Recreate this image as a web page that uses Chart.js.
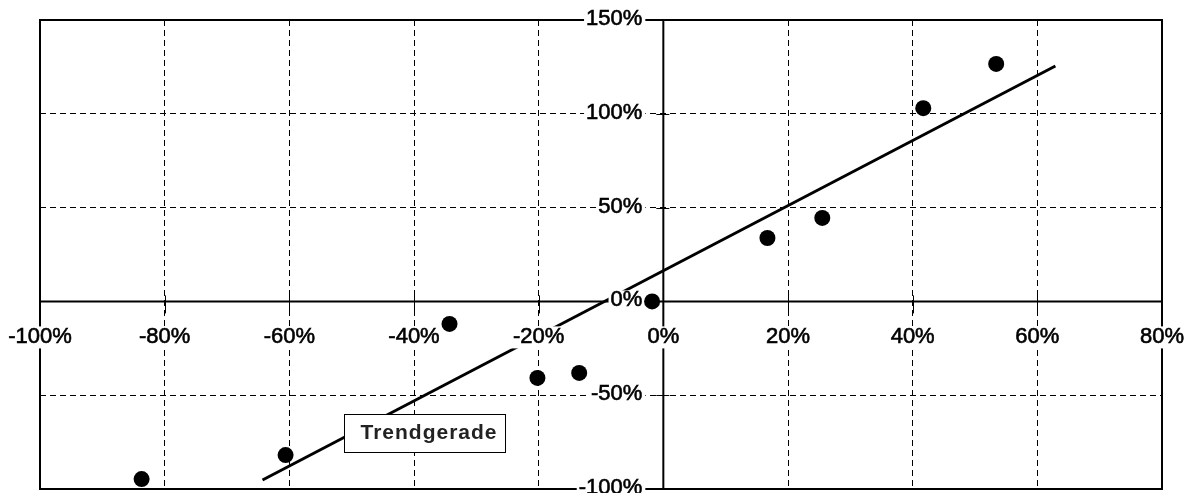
<!DOCTYPE html>
<html>
<head>
<meta charset="utf-8">
<script src="https://cdn.jsdelivr.net/npm/chart.js@4"></script>
<style>
  html, body { margin: 0; padding: 0; background: #fff; overflow: hidden; }
  canvas { display: block; }
</style>
</head>
<body>
<canvas id="grafico" width="1192" height="493"></canvas>
<script>
// Datos
let puntosX = [-83.7, -60.6, -34.3, -20.2, -13.5, -1.8, 16.7, 25.5, 41.7, 53.4];
let puntosY = [-94.7, -81.9, -12.0, -40.8, -38.1, 0.0, 33.8, 44.5, 103.0, 126.6];

// Trendgerade: Anfang und Ende
let trendX = [-64.3, 62.9];
let trendY = [-95.2, 125.5];

// Achsenbeschriftung
let ticksX = [-100, -80, -60, -40, -20, 0, 20, 40, 60, 80];
let ticksY = [-100, -50, 0, 50, 100, 150];

let etiquetaTrend = 'Trendgerade';
let posEtiqueta = [-51.2, -60]; // esquina superior izquierda en valores

let fuente = '"Liberation Sans", Arial, sans-serif';

// Marco, ejes en cero y marcas
let pluginMarco = {
    id: 'marco',
    beforeDatasetsDraw(chart) {
        let ctx = chart.ctx;
        let a = chart.chartArea;
        let sx = chart.scales.x;
        let sy = chart.scales.y;
        let x0 = sx.getPixelForValue(0);
        let y0 = sy.getPixelForValue(0);
        ctx.save();
        ctx.strokeStyle = '#000';
        ctx.lineWidth = 2;
        ctx.strokeRect(a.left, a.top, a.right - a.left, a.bottom - a.top);
        ctx.beginPath();
        ctx.moveTo(a.left, y0);
        ctx.lineTo(a.right, y0);
        ctx.moveTo(x0, a.top);
        ctx.lineTo(x0, a.bottom);
        ctx.stroke();
        // pequeñas marcas sobre los ejes
        ctx.lineWidth = 1;
        ctx.beginPath();
        ticksX.forEach(function (v) {
            let px = Math.round(sx.getPixelForValue(v)) + 0.5;
            ctx.moveTo(px, y0 - 6);
            ctx.lineTo(px, y0 + 12);
        });
        ticksY.forEach(function (v) {
            let py = Math.round(sy.getPixelForValue(v)) + 0.5;
            ctx.moveTo(x0 - 7, py);
            ctx.lineTo(x0 + 6, py);
        });
        ctx.stroke();
        ctx.restore();
    },
    afterDatasetDraw(chart, args) {
        if (args.index !== 1) return;
        let ctx = chart.ctx;
        let sx = chart.scales.x;
        let sy = chart.scales.y;
        let x0 = sx.getPixelForValue(0);
        let y0 = sy.getPixelForValue(0);
        ctx.save();
        ctx.font = '22px ' + fuente;
        ctx.textBaseline = 'middle';
        ctx.lineWidth = 0.6;
        ctx.strokeStyle = '#000';

        // etiquetas del eje X
        ctx.textAlign = 'center';
        ticksX.forEach(function (v) {
            let txt = v + '%';
            let px = sx.getPixelForValue(v);
            let py = y0 + 36;
            let w = ctx.measureText(txt).width;
            ctx.fillStyle = '#fff';
            ctx.fillRect(px - w / 2 - 2, py - 11, w + 4, 22);
            ctx.fillStyle = '#000';
            ctx.fillText(txt, px, py);
            ctx.strokeText(txt, px, py);
        });

        // etiquetas del eje Y
        ctx.textAlign = 'right';
        ticksY.forEach(function (v) {
            let txt = v + '%';
            let px = x0 - 21;
            let py = sy.getPixelForValue(v) - 1;
            let w = ctx.measureText(txt).width;
            ctx.fillStyle = '#fff';
            ctx.fillRect(px - w - 2, py - 10, w + 5, 20);
            ctx.fillStyle = '#000';
            ctx.fillText(txt, px, py);
            ctx.strokeText(txt, px, py);
        });

        // cuadro Trendgerade
        let bx = Math.round(sx.getPixelForValue(posEtiqueta[0])) + 0.5;
        let by = Math.round(sy.getPixelForValue(posEtiqueta[1])) + 0.5;
        ctx.fillStyle = '#fff';
        ctx.fillRect(bx, by, 161, 38);
        ctx.strokeStyle = '#000';
        ctx.lineWidth = 1;
        ctx.strokeRect(bx, by, 161, 38);
        ctx.font = 'bold 21px ' + fuente;
        ctx.letterSpacing = '1px';
        ctx.textAlign = 'left';
        ctx.fillStyle = '#222';
        ctx.fillText(etiquetaTrend, bx + 16, by + 19);
        ctx.restore();
    }
};

let puntos = puntosX.map(function (x, i) { return { x: x, y: puntosY[i] }; });
let linea = trendX.map(function (x, i) { return { x: x, y: trendY[i] }; });

let canvas = document.getElementById('grafico');
let grafico = new Chart(canvas, {
    type: 'scatter',
    data: {
        datasets: [{
            label: 'Werte',
            data: puntos,
            backgroundColor: '#000',
            borderWidth: 0,
            pointRadius: 8,
            pointHoverRadius: 8
        }, {
            label: etiquetaTrend,
            data: linea,
            showLine: true,
            borderColor: '#000',
            borderWidth: 3,
            pointRadius: 0,
            pointHoverRadius: 0,
            fill: false
        }]
    },
    options: {
        responsive: false,
        animation: false,
        layout: { autoPadding: false, padding: { left: 40, top: 20, right: 30, bottom: 4 } },
        plugins: {
            legend: { display: false },
            tooltip: { enabled: false }
        },
        scales: {
            x: {
                type: 'linear',
                min: -100,
                max: 80,
                ticks: { display: false, stepSize: 20, padding: 0 },
                grid: { color: '#000', lineWidth: 1, drawTicks: false },
                border: { display: false, dash: [6, 4] }
            },
            y: {
                type: 'linear',
                min: -100,
                max: 150,
                ticks: { display: false, stepSize: 50, padding: 0 },
                grid: { color: '#000', lineWidth: 1, drawTicks: false },
                border: { display: false, dash: [6, 4] }
            }
        }
    },
    plugins: [pluginMarco]
});
</script>
</body>
</html>
